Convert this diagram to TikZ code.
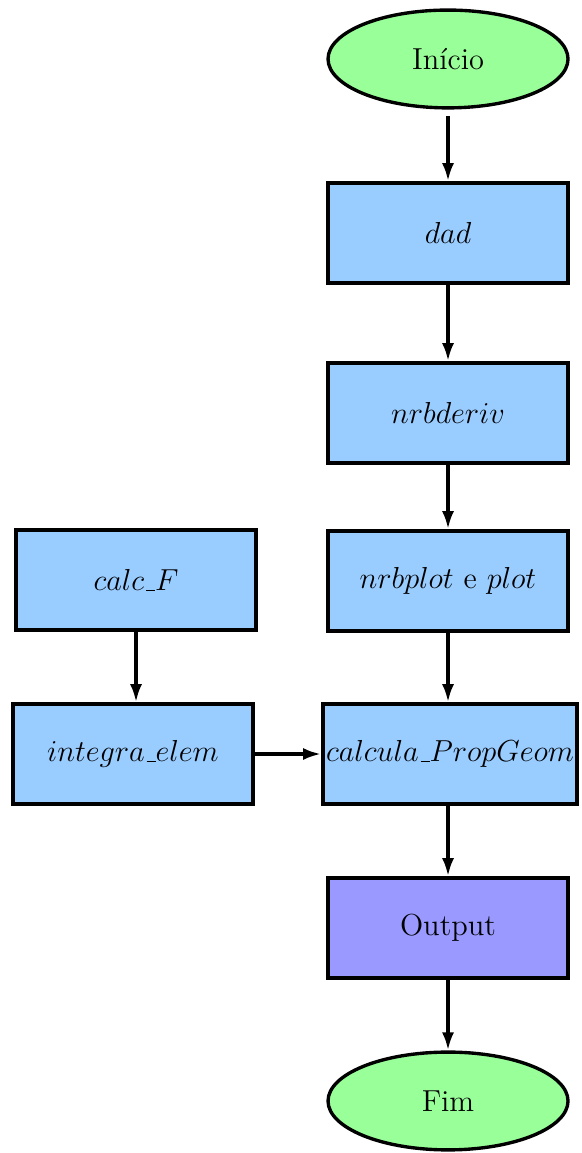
\documentclass[tikz,border=0pt]{standalone}
\usepackage{tikz}
\usetikzlibrary{shapes.geometric}
\usetikzlibrary{arrows.meta}
\definecolor{verdeini}{HTML}{99FF99}
\definecolor{azulbloco}{HTML}{99CCFF}
\definecolor{roxosaida}{HTML}{9999FF}
\newcommand{\traco}{\kern.06em\vbox{\hrule width.3em}}
\tikzset{
  terminal/.style={ellipse,draw,line width=1.6pt,fill=verdeini,minimum width=4cm,minimum height=1.63cm,font=\Large},
  bloco/.style={rectangle,draw,line width=1.6pt,fill=azulbloco,minimum width=4cm,minimum height=1.67cm,inner xsep=1.5pt,inner ysep=0pt,font=\Large},
  seta/.style={line width=1.6pt,-{Latex[length=3mm,width=2mm]}}
}

\begin{document}
\begin{tikzpicture}
\useasboundingbox (0,0) rectangle (9.7,-19.217);

\node[terminal] (inicio) at (7.467,-0.983) {Início};
\node[bloco] (dad) at (7.467,-3.883) {$dad$};
\node[bloco] (deriv) at (7.467,-6.883) {$nrbderiv$};
\node[bloco] (plot) at (7.467,-9.683) {$nrbplot$ e $plot$};
\node[bloco] (calcula) at (7.5,-12.567) {$calcula\traco PropGeom$};
\node[bloco,fill=roxosaida] (output) at (7.467,-15.467) {Output};
\node[terminal] (fim) at (7.467,-18.35) {Fim};

\node[bloco] (calcF) at (2.267,-9.667) {$calc\traco F$};
\node[bloco] (integra) at (2.217,-12.567) {$integra\traco elem$};

\draw[seta] ([yshift=-3pt]inicio.south) -- (dad);
\draw[seta] (dad) -- (deriv);
\draw[seta] (deriv) -- (plot);
\draw[seta] (plot) -- (plot |- calcula.north);
\draw[seta] (calcula.south -| output) -- (output);
\draw[seta] (output) -- (fim);

\draw[seta] (calcF) -- (calcF |- integra.north);
\draw[seta] (integra) -- (calcula);

\end{tikzpicture}
\end{document}
